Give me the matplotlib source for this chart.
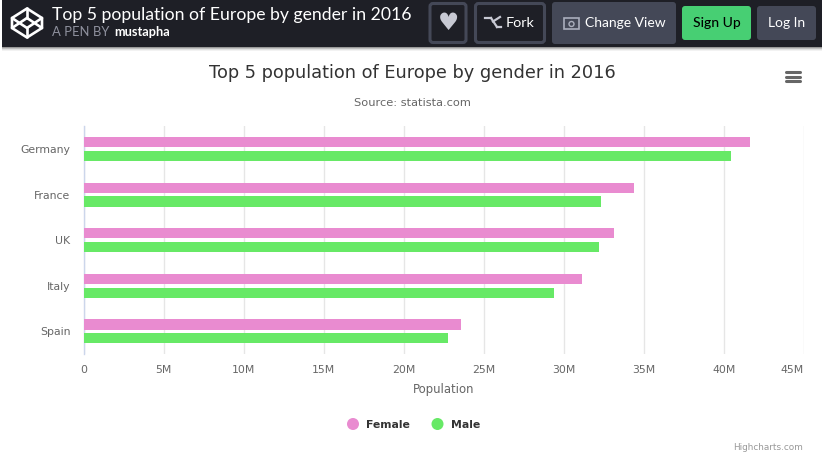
import numpy as np
import matplotlib
matplotlib.use("Agg")
import matplotlib.pyplot as plt
from matplotlib.patches import FancyBboxPatch, Rectangle, Circle, Polygon

W, H = 834, 469

#data
countries = ["Germany", "France", "UK", "Italy", "Spain"]
female = [41.6, 34.4, 33.15, 31.15, 23.6]
male = [40.47, 32.3, 32.2, 29.4, 22.75]
x_ticks = [0, 5, 10, 15, 20, 25, 30, 35, 40, 45]
x_labels = ["0", "5M", "10M", "15M", "20M", "25M", "30M", "35M", "40M", "45M"]
series_names = ["Female", "Male"]
series_colors = ["#e98bd0", "#67e966"]
chart_title = "Top 5 population of Europe by gender in 2016"
chart_source = "Source: statista.com"
pen_author = "mustapha"

fig = plt.figure(figsize=(W / 100, H / 100), dpi=100, facecolor="white")

#chart area
ax = fig.add_axes([83.5 / W, 1 - 354.2 / H, 720.5 / W, 228 / H])
y = np.arange(len(countries))
ax.barh(y - 0.152, female, height=0.225, color=series_colors[0], zorder=3)
ax.barh(y + 0.152, male, height=0.225, color=series_colors[1], zorder=3)
ax.set_xlim(0, 45)
ax.set_ylim(len(countries) - 0.5, -0.5)
ax.set_yticks(y)
ax.set_yticklabels(countries, fontsize=7.8, color="#666666")
ax.set_xticks(x_ticks)
ax.set_xticklabels(x_labels, fontsize=7.8, color="#666666")
ax.get_xticklabels()[-1].set_ha("right")
ax.tick_params(axis="both", length=0)
ax.tick_params(axis="x", pad=7.5)
ax.tick_params(axis="y", pad=9.5)
ax.grid(axis="x", color="#e6e6e6", linewidth=1, zorder=0)
ax.set_axisbelow(True)
for s in ["top", "right", "bottom"]:
    ax.spines[s].set_visible(False)
ax.spines["left"].set_color("#ccd6eb")
ax.spines["left"].set_linewidth(1)
ax.set_xlabel("Population", fontsize=8.4, color="#666666", labelpad=6)

#everything else is placed in pixels
ov = fig.add_axes([0, 0, 1, 1], facecolor="none", zorder=5)
ov.set_xlim(0, W)
ov.set_ylim(H, 0)
ov.axis("off")

#page header
for i, a in enumerate([0.4, 0.25, 0.12, 0.05]):
    ov.add_patch(Rectangle((2, 47 + i), 820, 1, color="black", alpha=a, lw=0))
ov.add_patch(Rectangle((2, 0), 820, 47, color="#1e1f26", lw=0))

#codepen logo
lw_logo = 1.9
ov.add_patch(Polygon([(27, 8.5), (42, 18), (42, 28), (27, 37.5), (12, 28), (12, 18)], closed=True,
                     fill=False, ec="white", lw=lw_logo, joinstyle="round"))
for p, q in [((27, 8.5), (27, 18)), ((27, 28), (27, 37.5)), ((12, 18), (27, 28)), ((42, 18), (27, 28)),
             ((12, 28), (27, 18)), ((42, 28), (27, 18))]:
    ov.plot([p[0], q[0]], [p[1], q[1]], color="white", lw=lw_logo, solid_capstyle="round")

ov.text(52, 15, chart_title, fontsize=12.7, family="Lato", color="white", va="center", ha="left")
ov.text(52, 32.5, "A PEN BY", fontsize=9.4, family="Lato", color="#8f919e", va="center", ha="left")
ov.text(114.5, 32.5, pen_author, fontsize=9.2, family="Lato", weight="bold", color="white", va="center", ha="left")


def button(x0, y0, x1, y1, face, edge=None, lw=0):
    ov.add_patch(FancyBboxPatch((x0 + 3, y0 + 3), x1 - x0 - 6, y1 - y0 - 6,
                                boxstyle="round,pad=3,rounding_size=3", fc=face,
                                ec=edge if edge else face, lw=lw))


button(430, 3.5, 466, 42.5, "#1e1f26", "#444857", 2.2)
button(475.5, 3.5, 544.5, 42.5, "#1e1f26", "#444857", 2.2)
button(552, 2, 676, 44, "#444857")
button(682, 6, 751, 40, "#47cf73")
button(757, 6, 816, 40, "#444857")

ov.text(448, 23, "\u2665", fontsize=17, family="DejaVu Sans", color="#c7c9d3", va="center", ha="center")
#fork icon
for p, q in [((485, 18), (491, 18)), ((491, 18), (497, 27)), ((497, 27), (501, 27)),
             ((493, 21.5), (500, 17))]:
    ov.plot([p[0], q[0]], [p[1], q[1]], color="#c7c9d3", lw=1.6)
ov.text(506, 23, "Fork", fontsize=10.4, family="Lato", color="white", va="center", ha="left")
#view icon
ov.add_patch(Rectangle((564, 18), 15, 11, fc="none", ec="#aaaebc", lw=1.2))
ov.add_patch(Circle((571.5, 24), 2.5, fc="none", ec="#aaaebc", lw=1))
ov.text(585, 23, "Change View", fontsize=10, family="Lato", color="white", va="center", ha="left")
ov.text(716.5, 23, "Sign Up", fontsize=10, family="Lato", weight="medium", color="black", va="center", ha="center")
ov.text(786.5, 23, "Log In", fontsize=10, family="Lato", color="white", va="center", ha="center")

#chart texts
ov.text(412, 73, chart_title, fontsize=12.8, color="#333333", va="center", ha="center")
ov.text(412, 103, chart_source, fontsize=8.2, color="#666666", va="center", ha="center")
for yy in (72, 77, 81.5):
    ov.plot([786.5, 800], [yy, yy], color="#666666", lw=2.2, solid_capstyle="round")

#legend
ov.add_patch(Circle((353, 424), 6, color=series_colors[0], lw=0))
ov.text(366, 424.5, series_names[0], fontsize=7.8, weight="bold", color="#333333", va="center", ha="left")
ov.add_patch(Circle((437.5, 424), 6, color=series_colors[1], lw=0))
ov.text(451, 424.5, series_names[1], fontsize=7.8, weight="bold", color="#333333", va="center", ha="left")

ov.text(803.5, 447, "Highcharts.com", fontsize=6.4, color="#999999", va="center", ha="right")

fig.savefig("out.png", dpi=100)
